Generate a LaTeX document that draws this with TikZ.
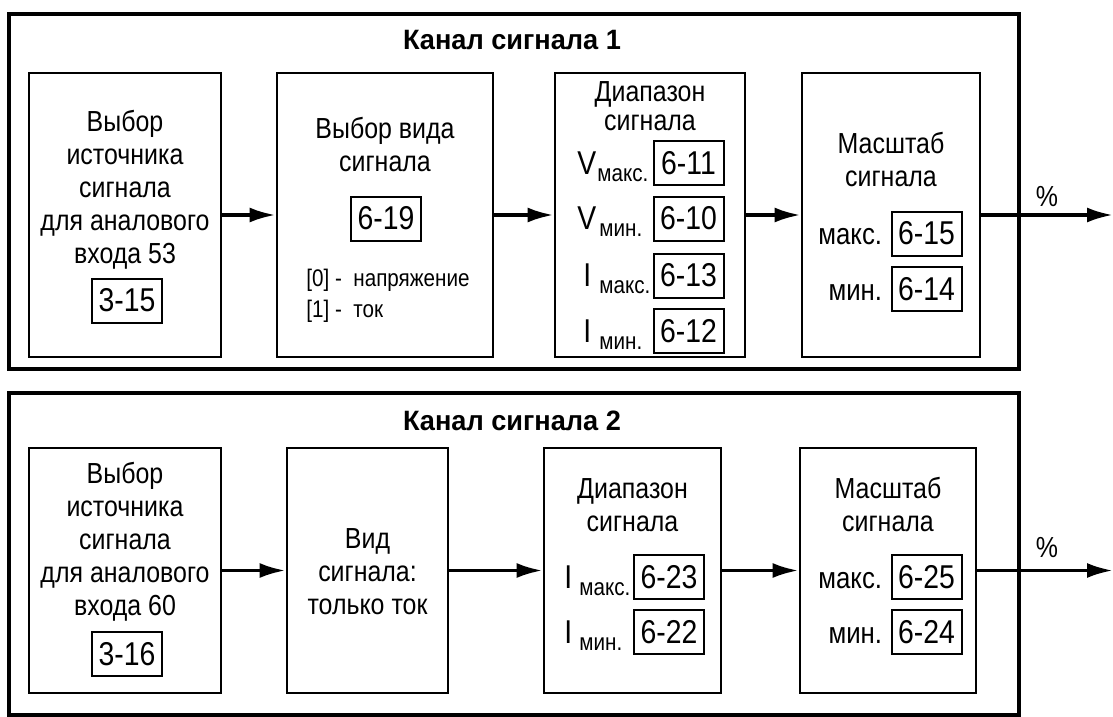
\documentclass[tikz,border=0pt]{standalone}
\usepackage{fontspec}
\setmainfont{Liberation Sans}[FakeStretch=0.86]
\newfontfamily\ttlfont{Liberation Sans}[FakeStretch=0.97]
\usetikzlibrary{arrows.meta}

\newcommand{\rangelbl}[3][10pt]{\makebox[#1][l]{#2}\raisebox{-3.5pt}{\fontsize{12}{12}\selectfont #3}}

\tikzset{
  frame/.style={draw, line width=2.4pt},
  blk/.style={draw, line width=1.4pt, inner sep=0pt},
  code/.style={draw, line width=1pt, minimum width=35pt, minimum height=22pt, inner sep=0pt, font=\fontsize{16.5}{16.5}\selectfont},
  txt/.style={align=center, inner sep=0pt, font=\fontsize{14.5}{16.5}\selectfont},
  small/.style={align=left, inner sep=0pt, font=\fontsize{12}{15.5}\selectfont},
  lbl/.style={anchor=base west, inner sep=0pt, font=\fontsize{16.5}{16.5}\selectfont},
  sel/.style={anchor=base east, inner sep=0pt, font=\fontsize{15}{15}\selectfont},
  ttl/.style={font=\ttlfont\bfseries\fontsize{14}{14}\selectfont},
  flow/.style={-{Latex[length=13pt,width=7.5pt]}, line width=1.8pt}
}

\begin{document}
\begin{tikzpicture}[x=0.5pt,y=-0.5pt]
\useasboundingbox (0,0) rectangle (1113,717);

% channel 1
\draw[frame] (9,14) rectangle (1019,369);
\node[ttl] (ttl1) at (512,40) {Канал сигнала 1};

\node[blk, minimum width=96pt, minimum height=142pt] (src1) at (125,215) {};
\node[txt] (srctxt1) at (125,190) {Выбор\\источника\\сигнала\\для аналового\\входа 53};
\node[code] (c315) at (127,300.5) {3-15};

\node[blk, minimum width=108pt, minimum height=142pt] (kind1) at (385,215) {};
\node[txt] (kindtxt1) at (385,145) {Выбор вида\\сигнала};
\node[code] (c619) at (386,218.5) {6-19};
\node[small, anchor=west] (kindopt1) at (306,296) {[0] -\ \ напряжение\\{}[1] -\ \ ток};

\node[blk, minimum width=95pt, minimum height=142pt] (rng1) at (650,215) {};
\node[txt, font=\fontsize{14.5}{14.5}\selectfont] (rngtxt1) at (650,106) {Диапазон\\сигнала};
\node[code] (c611) at (688.5,163) {6-11};
\node[code] (c610) at (688.5,218.5) {6-10};
\node[code] (c613) at (688.5,275.5) {6-13};
\node[code] (c612) at (688.5,331) {6-12};
\node[lbl] at (c611.base west -| 577,0) {\rangelbl{V}{макс.}};
\node[lbl] at (c610.base west -| 577,0) {\rangelbl[11pt]{V}{мин.}};
\node[lbl] at (c613.base west -| 575,0) {\rangelbl[12pt]{\hspace{4pt}I}{макс.}};
\node[lbl] at (c612.base west -| 575,0) {\rangelbl[12pt]{\hspace{4pt}I}{мин.}};

\node[blk, minimum width=89pt, minimum height=142pt] (scl1) at (891,215) {};
\node[txt] (scltxt1) at (891,160) {Масштаб\\сигнала};
\node[code] (c615) at (926.5,233.5) {6-15};
\node[code] (c614) at (926.5,289) {6-14};
\node[sel, xshift=-4pt] at (c615.base west) {макс.};
\node[sel, xshift=-4pt] at (c614.base west) {мин.\hspace{3pt}};

\coordinate (out1) at (1113,215);
\draw[flow] (src1) -- (kind1);
\draw[flow] (kind1) -- (rng1);
\draw[flow] (rng1) -- (scl1);
\draw[flow] (scl1) -- (out1);
\node[txt] (pct1) at (1047,197) {\%};

% channel 2
\draw[frame] (9,393) rectangle (1019,715);
\node[ttl] (ttl2) at (512,421) {Канал сигнала 2};

\node[blk, minimum width=96pt, minimum height=122.5pt] (src2) at (125,570.5) {};
\node[txt] (srctxt2) at (125,542) {Выбор\\источника\\сигнала\\для аналового\\входа 60};
\node[code] (c316) at (127,654) {3-16};

\node[blk, minimum width=80.5pt, minimum height=122.5pt] (kind2) at (367.5,570.5) {};
\node[txt] (kindtxt2) at (367.5,572) {Вид\\сигнала:\\только ток};

\node[blk, minimum width=88.5pt, minimum height=122.5pt] (rng2) at (632.5,570.5) {};
\node[txt] (rngtxt2) at (632.5,505) {Диапазон\\сигнала};
\node[code] (c623) at (669,577) {6-23};
\node[code] (c622) at (669,632) {6-22};
\node[lbl] at (c623.base west -| 556,0) {\rangelbl[11.5pt]{\hspace{4pt}I}{макс.}};
\node[lbl] at (c622.base west -| 556,0) {\rangelbl[11.5pt]{\hspace{4pt}I}{мин.}};

\node[blk, minimum width=88pt, minimum height=122.5pt] (scl2) at (888,570.5) {};
\node[txt] (scltxt2) at (888,505) {Масштаб\\сигнала};
\node[code] (c625) at (926.5,577) {6-25};
\node[code] (c624) at (926.5,632) {6-24};
\node[sel, xshift=-4pt] at (c625.base west) {макс.};
\node[sel, xshift=-4pt] at (c624.base west) {мин.\hspace{3pt}};

\coordinate (out2) at (1113,570.5);
\draw[flow] (src2) -- (kind2);
\draw[flow] (kind2) -- (rng2);
\draw[flow] (rng2) -- (scl2);
\draw[flow] (scl2) -- (out2);
\node[txt] (pct2) at (1047,548) {\%};
\end{tikzpicture}
\end{document}
